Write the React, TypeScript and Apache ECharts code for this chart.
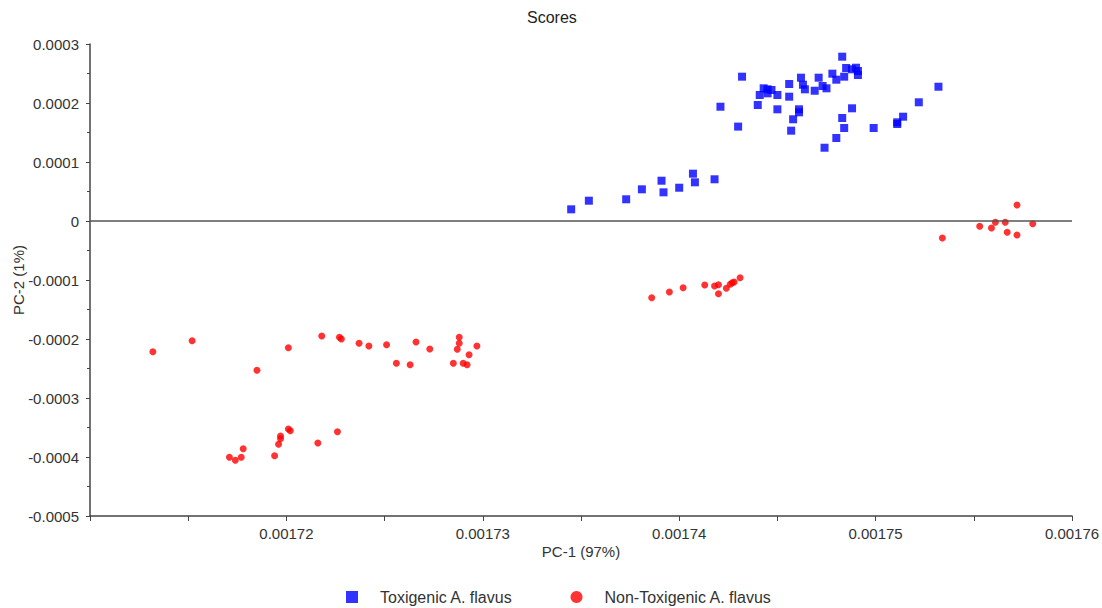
import React, { useEffect, useRef } from "react";
import * as echarts from "echarts";

const title = "Scores";
const xName = "PC-1 (97%)";
const yName = "PC-2 (1%)";
const seriesNames = ["Toxigenic A. flavus", "Non-Toxigenic A. flavus"];

const toxigenicX = [
  0.0017345, 0.0017354, 0.0017373, 0.0017381, 0.0017391, 0.0017392, 0.00174, 0.0017407, 0.0017408, 0.0017418,
  0.0017421, 0.001743, 0.0017432, 0.001744, 0.0017441, 0.0017443, 0.0017445, 0.0017445, 0.0017447, 0.001745,
  0.001745, 0.0017456, 0.0017456, 0.0017458, 0.0017457, 0.0017461, 0.0017461, 0.0017462, 0.0017463, 0.0017464,
  0.0017469, 0.0017471, 0.0017473, 0.0017475, 0.0017474, 0.001748, 0.0017478, 0.001748, 0.0017483, 0.0017484,
  0.0017483, 0.0017484, 0.0017485, 0.0017488, 0.0017488, 0.001749, 0.0017491, 0.0017491, 0.0017499, 0.0017511,
  0.0017511, 0.0017514, 0.0017522, 0.0017532,
];
const toxigenicY = [
  0.0000198, 0.0000344, 0.0000368, 0.0000537, 0.0000683, 0.0000486, 0.0000564, 0.0000802, 0.0000656, 0.0000707,
  0.0001937, 0.00016, 0.0002446, 0.0001966, 0.0002136, 0.0002249, 0.0002164, 0.0002232, 0.000222, 0.0002136,
  0.0001893, 0.0002322, 0.0002107, 0.0001724, 0.0001531, 0.0001893, 0.0001842, 0.0002429, 0.000231, 0.0002232,
  0.0002208, 0.0002429, 0.0002288, 0.0002249, 0.0001242, 0.0001407, 0.0002497, 0.0002395, 0.0002785, 0.0002446,
  0.0001746, 0.0001576, 0.0002593, 0.000191, 0.0002571, 0.0002598, 0.0002475, 0.0002542, 0.0001576, 0.0001644,
  0.0001673, 0.0001768, 0.0002012, 0.0002276,
];

const nonToxigenicX = [
  0.0017132, 0.0017152, 0.0017185, 0.0017201, 0.0017218, 0.0017227, 0.0017228, 0.0017237, 0.0017242, 0.0017251,
  0.0017256, 0.0017263, 0.0017266, 0.0017273, 0.0017285, 0.0017288, 0.0017288, 0.0017287, 0.001729, 0.0017292,
  0.0017293, 0.0017297,
  0.0017171, 0.0017174, 0.0017177, 0.0017178, 0.0017194, 0.0017196, 0.0017197, 0.0017197, 0.0017201, 0.0017202,
  0.0017216, 0.0017226,
  0.0017386, 0.0017395, 0.0017402, 0.0017413, 0.0017418, 0.001742, 0.001742, 0.0017424, 0.0017426, 0.0017427,
  0.0017428, 0.0017431,
  0.0017534, 0.0017553, 0.0017559, 0.0017561, 0.0017566, 0.0017567, 0.0017572, 0.0017572, 0.001758,
];
const nonToxigenicY = [
  -0.0002215, -0.0002029, -0.0002531, -0.0002147, -0.0001949, -0.0001971, -0.0002, -0.0002073, -0.0002119, -0.0002097,
  -0.0002412, -0.0002436, -0.0002051, -0.0002169, -0.0002412, -0.0001971, -0.0002073, -0.0002175, -0.0002412, -0.0002436,
  -0.0002266, -0.0002119,
  -0.0004005, -0.0004056, -0.0004005, -0.0003859, -0.0003978, -0.0003785, -0.000369, -0.0003644, -0.0003525, -0.0003554,
  -0.0003763, -0.0003571,
  -0.00013, -0.0001203, -0.0001131, -0.0001085, -0.0001102, -0.000108, -0.0001232, -0.0001141, -0.0001073, -0.0001046,
  -0.0001034, -0.0000961,
  -0.0000288, -0.000009, -0.0000119, -0.0000022, -0.0000022, -0.0000192, 0.0000271, -0.0000237, -0.0000046,
];

const FONT = "'Liberation Sans', Arial, sans-serif";

export default function App() {
  const ref = useRef<HTMLDivElement>(null);
  useEffect(() => {
    if (!ref.current) return;
    const chart = echarts.init(ref.current, undefined, { renderer: "svg" });
    const toxData = toxigenicX.map((x, i) => [x, toxigenicY[i]]);
    const nonData = nonToxigenicX.map((x, i) => [x, nonToxigenicY[i]]);
    chart.setOption({
      animation: false,
      backgroundColor: "#ffffff",
      textStyle: { fontFamily: FONT },
      title: {
        text: title,
        left: 527,
        top: 9,
        padding: 0,
        textStyle: { fontSize: 16, fontWeight: "normal", color: "#222", fontFamily: FONT },
      },
      grid: { left: 90, right: 30, top: 44, bottom: 92, containLabel: false, outerBoundsMode: "none" },
      legend: {
        left: 346,
        top: 589,
        padding: 0,
        itemWidth: 12,
        itemHeight: 12,
        itemGap: 58,
        data: [
          { name: seriesNames[0], icon: "rect" },
          { name: seriesNames[1], icon: "circle" },
        ],
        textStyle: { fontSize: 16, color: "#333", padding: [0, 0, 0, 17], fontFamily: FONT },
      },
      xAxis: {
        type: "value",
        min: 0.00171,
        max: 0.00176,
        interval: 0.00001,
        name: xName,
        nameLocation: "middle",
        nameGap: 28,
        nameMoveOverlap: false,
        nameTextStyle: { fontSize: 15, color: "#333", fontFamily: FONT },
        axisLine: { onZero: false, lineStyle: { color: "#444", width: 1.5 } },
        axisTick: { show: true, length: 5, lineStyle: { color: "#444" } },
        minorTick: { show: true, splitNumber: 2, length: 5, lineStyle: { color: "#444" } },
        splitLine: { show: false },
        axisLabel: {
          fontSize: 15,
          color: "#333",
          margin: 10,
          fontFamily: FONT,
          formatter: (v: number) => (Math.abs(v - 0.00171) < 1e-9 ? "" : v.toFixed(5)),
        },
      },
      yAxis: {
        type: "value",
        min: -0.0005,
        max: 0.0003,
        interval: 0.0001,
        name: yName,
        nameLocation: "middle",
        nameGap: 64,
        nameRotate: 90,
        nameMoveOverlap: false,
        nameTextStyle: { fontSize: 15, color: "#333", fontFamily: FONT },
        axisLine: { show: true, onZero: false, lineStyle: { color: "#444", width: 1.5 } },
        axisTick: { show: true, length: 4, lineStyle: { color: "#444" } },
        minorTick: { show: true, splitNumber: 2, length: 3, lineStyle: { color: "#444" } },
        splitLine: { show: false },
        axisLabel: {
          fontSize: 15,
          color: "#333",
          margin: 11,
          fontFamily: FONT,
          formatter: (v: number) => (Math.abs(v) < 1e-10 ? "0" : v.toFixed(4)),
        },
      },
      series: [
        {
          name: seriesNames[0],
          type: "scatter",
          symbol: "rect",
          symbolSize: 8,
          itemStyle: { color: "#0000ff" },
          data: toxData,
          markLine: {
            silent: true,
            symbol: "none",
            label: { show: false },
            lineStyle: { color: "#555", width: 1.5, type: "solid" },
            data: [{ yAxis: 0 }],
          },
        },
        {
          name: seriesNames[1],
          type: "scatter",
          symbol: "circle",
          symbolSize: 7,
          itemStyle: { color: "#ff0000" },
          data: nonData,
        },
      ],
    });
    return () => chart.dispose();
  }, []);
  return (
    <div
      ref={ref}
      style={{ position: "fixed", left: 0, top: 0, width: 1102, height: 608, background: "#fff" }}
    />
  );
}
